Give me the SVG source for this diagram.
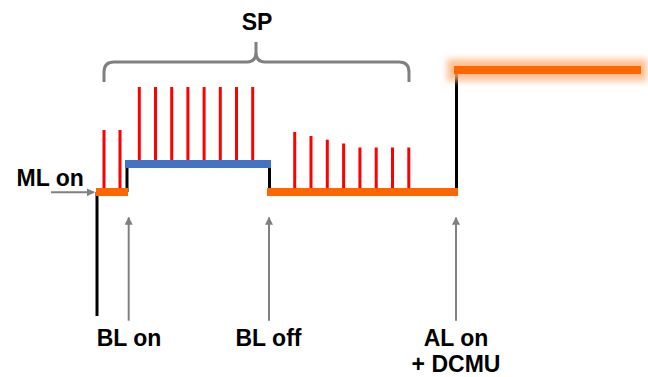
<svg xmlns="http://www.w3.org/2000/svg" width="648" height="377" viewBox="0 0 648 377">
<defs>
<style>
.lbl{font-family:"Liberation Sans",Arial,sans-serif;font-weight:bold;font-size:23px;fill:#000}
.blk{stroke:#000;stroke-width:3;fill:none}
.red{stroke:#FF0000;stroke-width:3}
.gray{stroke:#808080;stroke-width:2;fill:none}
.orange{fill:#FF6600}
.blue{fill:#4472C4}
</style>
<marker id="ah" viewBox="0 0 10 10" refX="9" refY="5" markerWidth="4" markerHeight="4" orient="auto" markerUnits="strokeWidth">
<path d="M0,0 L10,5 L0,10 Z" fill="#808080"/>
</marker>
<filter id="glow" x="-20%" y="-200%" width="140%" height="500%">
<feGaussianBlur stdDeviation="3"/>
</filter>
</defs>
<rect width="648" height="377" fill="#fff"/>

<g id="trace">
<path class="blk" d="M97,316 V192"/>
<path class="blk" d="M127,192 V164"/>
<path class="blk" d="M269.5,164 V192"/>
<path class="blk" d="M456.5,192 V70"/>
<rect class="orange" x="96" y="188" width="32" height="8"/>
<rect class="blue" x="125" y="160" width="146" height="8"/>
<rect class="orange" x="267" y="188" width="191" height="8"/>
<rect x="447" y="59" width="200" height="22" fill="#FFB07A" opacity="0.8" filter="url(#glow)"/>
<rect class="orange" x="454" y="66" width="187" height="8"/>
</g>

<g id="spikes">
<line class="red" x1="104" y1="130" x2="104" y2="188"/>
<line class="red" x1="120" y1="130" x2="120" y2="188"/>
<line class="red" x1="139.3" y1="87" x2="139.3" y2="160"/>
<line class="red" x1="155.5" y1="87" x2="155.5" y2="160"/>
<line class="red" x1="171.7" y1="87" x2="171.7" y2="160"/>
<line class="red" x1="187.9" y1="87" x2="187.9" y2="160"/>
<line class="red" x1="204.1" y1="87" x2="204.1" y2="160"/>
<line class="red" x1="220.3" y1="87" x2="220.3" y2="160"/>
<line class="red" x1="236.5" y1="87" x2="236.5" y2="160"/>
<line class="red" x1="252.7" y1="87" x2="252.7" y2="160"/>
<line class="red" x1="294.7" y1="132" x2="294.7" y2="188"/>
<line class="red" x1="311" y1="136" x2="311" y2="188"/>
<line class="red" x1="327.3" y1="139.7" x2="327.3" y2="188"/>
<line class="red" x1="343.6" y1="143.5" x2="343.6" y2="188"/>
<line class="red" x1="359.9" y1="147.5" x2="359.9" y2="188"/>
<line class="red" x1="376.2" y1="147.5" x2="376.2" y2="188"/>
<line class="red" x1="392.5" y1="147.5" x2="392.5" y2="188"/>
<line class="red" x1="408.8" y1="147.5" x2="408.8" y2="188"/>
</g>

<g id="bracket">
<path d="M104,82 V72 Q104,62 114,62 H247 Q256,62 256,52 V42 M409,82 V72 Q409,62 399,62 H265 Q256,62 256,52" stroke="#808080" stroke-width="3" fill="none"/>
<text class="lbl" x="257" y="30" text-anchor="middle">SP</text>
</g>

<g id="connectors">
<line class="gray" x1="51" y1="192.3" x2="94" y2="192.3" marker-end="url(#ah)"/>
<line class="gray" x1="128.7" y1="320.7" x2="128.7" y2="217.5" marker-end="url(#ah)"/>
<line class="gray" x1="269" y1="320.7" x2="269" y2="217.5" marker-end="url(#ah)"/>
<line class="gray" x1="456" y1="320.7" x2="456" y2="217.5" marker-end="url(#ah)"/>
</g>

<g id="ml-on"><text class="lbl" x="16.5" y="186">ML on</text></g>
<g id="bl-on"><text class="lbl" x="129" y="345.7" text-anchor="middle">BL on</text></g>
<g id="bl-off"><text class="lbl" x="268.5" y="345.7" text-anchor="middle">BL off</text></g>
<g id="al-on"><text class="lbl" x="456" y="345.7" text-anchor="middle">AL on</text>
<text class="lbl" x="456" y="372" text-anchor="middle">+ DCMU</text></g>
</svg>
